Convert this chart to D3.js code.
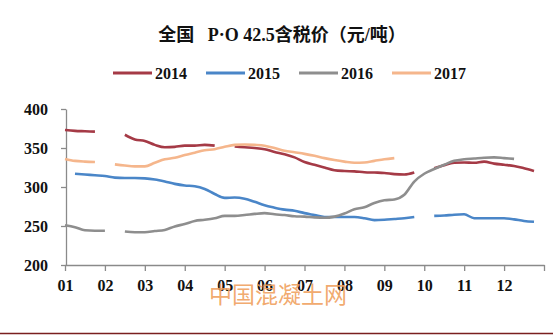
<!DOCTYPE html>
<html>
<head>
<meta charset="utf-8">
<script src="https://cdn.jsdelivr.net/npm/d3@7"></script>
<style>
  html, body { margin: 0; padding: 0; background: #fff; }
  svg { display: block; }
</style>
</head>
<body>
<svg id="chart" width="553" height="336"></svg>
<script>
// Weekly national P·O 42.5 cement price (tax included), yuan per tonne.
// Each series has 48 weekly readings (4 per month); null marks a gap in the record.
const monthLabels = ["01","02","03","04","05","06","07","08","09","10","11","12"];
const years = ["2014","2015","2016","2017"];
const yTicks = [200, 250, 300, 350, 400];

const price2014 = [
  373, 372, 371.5, 371,
  null, null, 367, 361,
  359, 354, 351, 351.5,
  353, 353, 354, 353,
  null, 352, 351, 350,
  348.5, 345, 342, 338,
  332, 328.5, 325, 321.5,
  320.5, 320, 319, 318.5,
  318, 316.5, 316, 318.5,
  null, 324, 328, 331,
  331.5, 331, 332.5, 330,
  328.5, 327, 324, 320.5
];
const price2015 = [
  null, 317, 316, 315,
  314, 312, 311.5, 311.5,
  311, 309.5, 307, 304,
  302, 301, 297.5, 291,
  286, 286.5, 285, 281,
  276.5, 273.5, 271, 269.5,
  266.5, 264, 261.5, 261.5,
  261.5, 261.5, 260, 257.5,
  258, 259, 260, 261.5,
  null, 263, 263.5, 264.5,
  265, 260, 260, 260,
  260, 258.5, 256.5, 255.5
];
const price2016 = [
  251, 248.5, 244.5, 244,
  244, null, 243, 242,
  242, 243.5, 245, 249.5,
  252.5, 256.5, 258, 260,
  263, 263, 264, 265.5,
  266.5, 265, 264, 262.5,
  262, 261, 260.5, 262,
  266, 271.5, 274, 279.5,
  283, 284, 290, 307,
  317, 323, 328.5, 333.5,
  335.5, 336.5, 337.5, 338,
  337, 336, null, null
];
const price2017 = [
  336, 333.5, 332.5, 332,
  null, 329, 327.5, 326.5,
  326.5, 331, 335.5, 337.5,
  341, 344, 347, 348.5,
  351.5, 354, 354.5, 354,
  353, 350, 346.5, 344.5,
  342.5, 340, 337, 334.5,
  332.5, 331, 331.5, 333.5,
  335.5, 337, null, null,
  null, null, null, null,
  null, null, null, null,
  null, null, null, null
];

const seriesValues = [price2014, price2015, price2016, price2017];
const colors = ["#a53a46", "#4a86c8", "#8e8e8e", "#f5b68c"];

const svg = d3.select("#chart");
const serif = "'Liberation Serif', 'Times New Roman', 'Noto Sans CJK SC', serif";

const x = d3.scaleLinear().domain([0, 12]).range([65, 544]);
const y = d3.scaleLinear().domain([200, 400]).range([265, 109]);
const weekPos = i => i / 4;

// Title
svg.append("text")
  .attr("x", 282).attr("y", 41)
  .attr("text-anchor", "middle")
  .attr("font-family", serif)
  .attr("font-weight", "bold")
  .attr("font-size", 18)
  .attr("fill", "#111")
  .style("white-space", "pre")
  .text("全国   P·O 42.5含税价（元/吨）");

// Legend
const legend = svg.append("g").attr("class", "legend");
years.forEach((yr, k) => {
  const lx = 113 + k * 93;
  legend.append("line")
    .attr("x1", lx).attr("x2", lx + 39)
    .attr("y1", 73).attr("y2", 73)
    .attr("stroke", colors[k]).attr("stroke-width", 3);
  legend.append("text")
    .attr("x", lx + 42).attr("y", 79)
    .attr("font-family", serif)
    .attr("font-weight", "bold")
    .attr("font-size", 16)
    .attr("fill", "#111")
    .text(yr);
});

// Axes
const axisColor = "#8a8a8a";
const yAxis = svg.append("g")
  .attr("transform", `translate(${x(0) + 1},0)`)
  .call(d3.axisLeft(y).tickValues(yTicks).tickSize(5).tickSizeOuter(0).tickPadding(13));
const xAxis = svg.append("g")
  .attr("transform", `translate(0,${y(200)})`)
  .call(d3.axisBottom(x).tickValues(d3.range(0, 13))
    .tickFormat(i => i < 12 ? monthLabels[i] : "")
    .tickSize(6).tickSizeOuter(0).tickPadding(9));

[yAxis, xAxis].forEach(g => {
  g.selectAll("path.domain").attr("stroke", axisColor).attr("stroke-width", 1.3);
  g.selectAll(".tick line").attr("stroke", axisColor).attr("stroke-width", 1.3);
  g.selectAll(".tick text")
    .attr("font-family", serif)
    .attr("font-weight", "bold")
    .attr("font-size", 16)
    .attr("fill", "#111");
});

// Series lines
const line = d3.line()
  .defined(d => d != null)
  .x((d, i) => x(weekPos(i)))
  .y(d => y(d))
  .curve(d3.curveMonotoneX);

svg.append("g").selectAll("path.series")
  .data(seriesValues)
  .join("path")
  .attr("class", "series")
  .attr("fill", "none")
  .attr("stroke", (d, k) => colors[k])
  .attr("stroke-width", 2.6)
  .attr("stroke-linejoin", "round")
  .attr("d", d => line(d));

// Site watermark, laid over the month labels
svg.append("text")
  .attr("x", 278).attr("y", 303)
  .attr("text-anchor", "middle")
  .attr("font-family", "'Noto Sans CJK SC', sans-serif")
  .attr("font-size", 23)
  .attr("fill", "#f0a05c")
  .attr("fill-opacity", 0.9)
  .text("中国混凝土网");

// Bottom rule
svg.append("line")
  .attr("x1", 0).attr("x2", 553)
  .attr("y1", 333.5).attr("y2", 333.5)
  .attr("stroke", "#7a1f1f").attr("stroke-width", 1.5);
</script>
</body>
</html>
